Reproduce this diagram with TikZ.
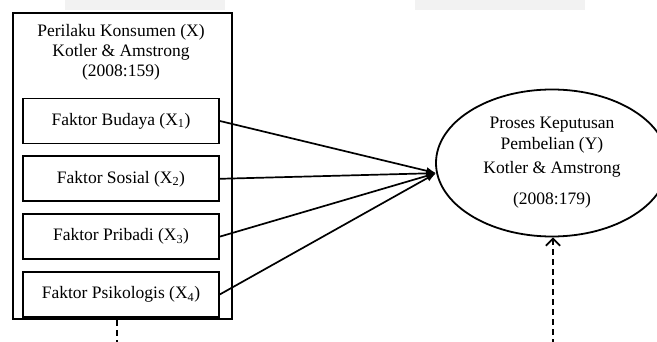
\documentclass[tikz,border=0pt]{standalone}
\usepackage{fontspec}
\setmainfont{Liberation Serif}
\usetikzlibrary{positioning,arrows.meta,shapes.geometric}

\begin{document}
\begin{tikzpicture}[x=1pt,y=-1pt,
        factor/.style={draw,line width=1.8pt,minimum width=196pt,minimum height=45pt,font=\fontsize{17.5}{20}\selectfont},
        influence/.style={-{Latex[length=3.5mm,width=2.6mm]},line width=1.7pt},
        link/.style={line width=1.8pt,dash pattern=on 6pt off 4pt},
        node distance=11pt]
    \useasboundingbox (0,0) rectangle (657,342);
    \clip (0,0) rectangle (657,342);
    % page residue at the top
    \fill[black!5] (65,0) rectangle (225,10);
    \fill[black!5] (415,0) rectangle (585,10);
    \node[draw,line width=1.8pt,minimum width=219pt,minimum height=306pt,anchor=north west] (perilaku) at (12,12) {};
    \node[align=center,anchor=north,font=\fontsize{17.5}{20}\selectfont] (judul) at (121,21) {Perilaku Konsumen (X)\\Kotler \& Amstrong\\(2008:159)};
    \node[factor] (budaya) at (121,121) {Faktor Budaya (X\textsubscript{1})};
    \node[factor,below=of budaya] (sosial) {Faktor Sosial (X\textsubscript{2})};
    \node[factor,below=of sosial] (pribadi) {Faktor Pribadi (X\textsubscript{3})};
    \node[factor,below=of pribadi] (psikologis) {Faktor Psikologis (X\textsubscript{4})};
    \node[draw,ellipse,line width=1.8pt,minimum width=232pt,minimum height=147pt,align=center,font=\fontsize{17.5}{21}\selectfont] (keputusan) at (552,163)
        {Proses Keputusan\\Pembelian (Y)\\[3pt]Kotler \& Amstrong\\[10pt](2008:179)};
    \coordinate (bawahX) at (117,345);
    \coordinate (bawahY) at (553,345);
    \draw[influence] (budaya.east) -- (keputusan.185);
    \draw[influence] (sosial.east) -- (keputusan.185);
    \draw[influence] (pribadi.east) -- (keputusan.185);
    \draw[influence] (psikologis.east) -- (keputusan.185);
    \draw[link] (perilaku.south -| bawahX) -- (bawahX);
    \draw[link,-{Straight Barb[length=2.5mm]}] (bawahY) -- (keputusan.south -| bawahY);
\end{tikzpicture}
\end{document}
